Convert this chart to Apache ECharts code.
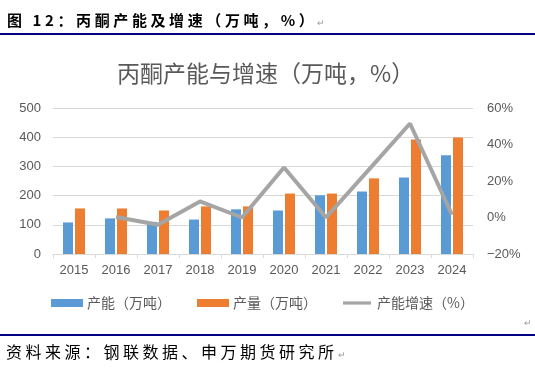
<!DOCTYPE html>
<html><head><meta charset="utf-8">
<script src="https://cdn.jsdelivr.net/npm/echarts@6/dist/echarts.min.js"></script>
<style>
html,body{margin:0;padding:0;background:#fff}
#wrap{position:relative;width:535px;height:374px}
#c{position:absolute;left:0;top:0;width:535px;height:374px}
.hdr{position:absolute;left:7px;top:10px;font:bold 15px "Noto Sans CJK SC",sans-serif;letter-spacing:3.6px;color:#000;white-space:nowrap;line-height:20px}
.ftr{position:absolute;left:6px;top:341px;font:16px "Noto Sans CJK SC",sans-serif;letter-spacing:3.5px;color:#000;white-space:nowrap;line-height:20px}
.ret{font:normal 9px sans-serif;color:#999;letter-spacing:0}
.rule{position:absolute;left:0;width:535px;height:2px;background:#000080}
</style>
</head><body><div id="wrap"><div id="c"></div>
<div class="hdr">图 12：丙酮产能及增速（万吨，%）<span class="ret">↵</span></div>
<div class="rule" style="top:33px"></div>
<div class="ret" style="position:absolute;left:524px;top:318px">↵</div>
<div class="rule" style="top:334px"></div>
<div class="ftr">资料来源：钢联数据、申万期货研究所<span class="ret">↵</span></div>
</div>
<script>
const categories = ['2015','2016','2017','2018','2019','2020','2021','2022','2023','2024'];
const capacity = [108, 122, 110, 118, 153, 149, 201, 214, 262, 338];
const output = [156, 156, 149, 163, 163, 207, 207, 259, 392, 399];
const growth = [null, 0.3, -4, 8.8, 0, 27.4, 0, 25.7, 51.5, 1.5];
const leftTicks = [0, 500, 100];
const rightTicks = [-20, 60, 20];
const seriesNames = ['产能（万吨）', '产量（万吨）', '产能增速（%）'];

const chart = echarts.init(document.getElementById('c'), null, {renderer:'canvas'});
const gray = '#595959';
const fam = 'Liberation Sans, "Noto Sans CJK SC", sans-serif';
chart.setOption({
  animation:false,
  backgroundColor:'transparent',
  textStyle:{fontFamily:fam},
  title:{text:'丙酮产能与增速（万吨，%）', left:112, top:57,
    textStyle:{fontFamily:'"Noto Sans CJK SC", sans-serif', fontSize:23, fontWeight:'normal', color:gray}},
  legend:{bottom:59, left:46, itemGap:26, itemWidth:32, itemHeight:8,
    textStyle:{fontFamily:'"Noto Sans CJK SC", sans-serif', fontSize:14, color:gray, padding:[0,0,0,-1]},
    data:[{name:seriesNames[0], icon:'rect'},{name:seriesNames[1], icon:'rect'},
      {name:seriesNames[2], icon:'path://M0,0M0,3L35,3L35,7L0,7ZM35,10', itemStyle:{color:'#A5A5A5'}}]},
  grid:{left:53, right:62, top:108, bottom:120},
  xAxis:{type:'category', data:categories,
    axisLine:{lineStyle:{color:'#d9d9d9'}},
    axisTick:{show:true, length:4, lineStyle:{color:'#d9d9d9'}},
    axisLabel:{color:gray, fontSize:13, margin:10}},
  yAxis:[
    {type:'value', min:leftTicks[0], max:leftTicks[1], interval:leftTicks[2],
      axisLabel:{color:gray, fontSize:13, margin:12},
      splitLine:{lineStyle:{color:'#d9d9d9'}}, axisLine:{show:false}, axisTick:{show:false}},
    {type:'value', min:rightTicks[0], max:rightTicks[1], interval:rightTicks[2],
      axisLabel:{color:gray, fontSize:13, margin:14, formatter:v => String(v).replace('-', '−') + '%'},
      splitLine:{show:false}, axisLine:{show:false}, axisTick:{show:false}}
  ],
  series:[
    {name:seriesNames[0], type:'bar', data:capacity, barWidth:10, barGap:'20%', itemStyle:{color:'#5B9BD5'}},
    {name:seriesNames[1], type:'bar', data:output, barWidth:10, barGap:'20%', itemStyle:{color:'#ED7D31'}},
    {name:seriesNames[2], type:'line', yAxisIndex:1, data:growth, showSymbol:false, symbol:'none',
      lineStyle:{color:'#A5A5A5', width:4}, itemStyle:{color:'#A5A5A5'}}
  ]
});
</script></body></html>
